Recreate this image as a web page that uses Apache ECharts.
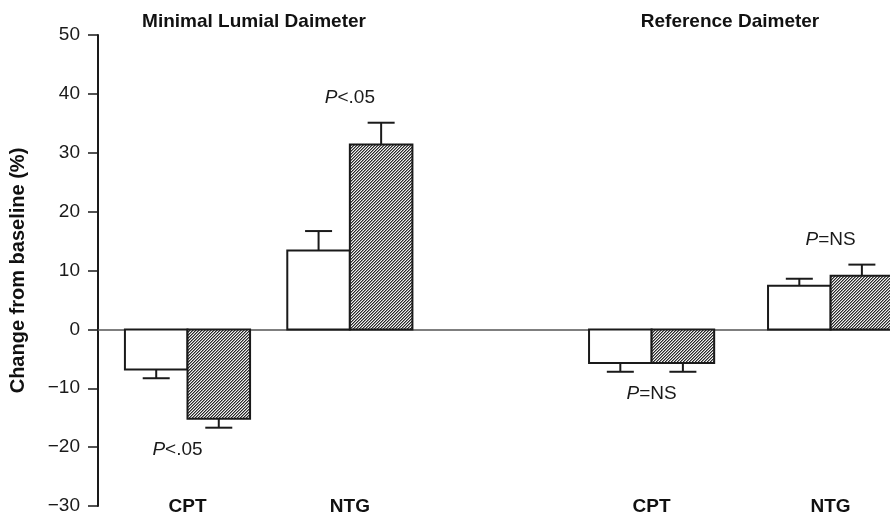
<!DOCTYPE html>
<html><head><meta charset="utf-8">
<script src="https://cdn.jsdelivr.net/npm/echarts@6/dist/echarts.min.js"></script>
<style>html,body{margin:0;padding:0;background:#fff}#c{width:890px;height:522px}</style>
</head><body><div id="c"></div>
<script>
// ---- data ----
const categories = ['CPT', 'NTG', 'CPT', 'NTG'];
const groupX = [11.3, 31.8, 69.9, 92.5];          // category positions on the x scale
const whiteVals = [-6.8, 13.4, -5.7, 7.4];
const hatchVals = [-15.2, 31.4, -5.7, 9.1];
const whiteErr = [1.5, 3.3, 1.5, 1.2];
const hatchErr = [1.5, 3.7, 1.5, 1.9];
const pLabels = ['<.05', '<.05', '=NS', '=NS'];
const panelTitles = ['Minimal Lumial Daimeter', 'Reference Daimeter'];
const yTicks = [-30, -20, -10, 0, 10, 20, 30, 40, 50];

// ---- hatch pattern ----
const pc = document.createElement('canvas');
pc.width = 3; pc.height = 3;
const g = pc.getContext('2d');
const shades = ['#2a2a2a', '#8a8a8a', '#f2f2f2'];
for (let x = 0; x < 3; x++) for (let y = 0; y < 3; y++) {
  g.fillStyle = shades[(x + y) % 3];
  g.fillRect(x, y, 1, 1);
}
const hatch = { image: pc, repeat: 'repeat' };

const barW = 7.9;
const dataRows = categories.map((c, i) => [groupX[i], whiteVals[i], hatchVals[i], whiteErr[i], hatchErr[i]]);
const FONT = '"Liberation Sans", Arial, Helvetica, sans-serif';

const chart = echarts.init(document.getElementById('c'), null, { renderer: 'canvas' });
chart.setOption({
  animation: false,
  backgroundColor: '#fff',
  grid: { left: 98, right: 0, top: 35, bottom: 16, containLabel: false },
  xAxis: {
    type: 'value', min: 0, max: 100,
    axisLine: { show: true, onZero: true, lineStyle: { color: '#555', width: 1.5 } },
    axisTick: { show: false }, axisLabel: { show: false }, splitLine: { show: false }
  },
  yAxis: {
    type: 'value', min: yTicks[0], max: yTicks[yTicks.length - 1], interval: 10,
    name: 'Change from baseline (%)', nameLocation: 'middle', nameGap: 70, nameRotate: 90,
    nameTextStyle: { fontFamily: FONT, fontWeight: 'bold', fontSize: 20, color: '#111' },
    axisLine: { show: true, lineStyle: { color: '#1a1a1a', width: 2 } },
    axisTick: { show: true, inside: false, length: 10, lineStyle: { color: '#1a1a1a', width: 1.5 } },
    axisLabel: { fontFamily: FONT, fontSize: 19, color: '#1a1a1a', margin: 18,
      formatter: v => (v < 0 ? '\u2212' + Math.abs(v) : String(v)) },
    splitLine: { show: false }
  },
  graphic: [
    { type: 'text', x: 254, y: 22, style: { text: panelTitles[0], align: 'center', verticalAlign: 'middle',
      font: 'bold 19px ' + FONT, fill: '#111' } },
    { type: 'text', x: 730, y: 22, style: { text: panelTitles[1], align: 'center', verticalAlign: 'middle',
      font: 'bold 19px ' + FONT, fill: '#111' } }
  ],
  series: [{
    type: 'custom',
    clip: false,
    data: dataRows,
    renderItem: function (params, api) {
      const i = params.dataIndex;
      const x = api.value(0);
      const wv = api.value(1), hv = api.value(2), we = api.value(3), he = api.value(4);
      const w = api.size([barW, 0])[0];
      const p0 = api.coord([x, 0]);
      const cx = p0[0], y0 = p0[1];
      const yw = api.coord([x, wv])[1];
      const yh = api.coord([x, hv])[1];
      const ywe = api.coord([x, wv + Math.sign(wv) * we])[1];
      const yhe = api.coord([x, hv + Math.sign(hv) * he])[1];
      const yBottom = api.coord([x, yTicks[0]])[1];
      const capW = 27;
      const stroke = '#1a1a1a';
      const kids = [];
      kids.push({ type: 'rect', shape: { x: cx - w, y: Math.min(y0, yw), width: w, height: Math.abs(yw - y0) },
        style: { fill: '#fff', stroke: stroke, lineWidth: 2 } });
      kids.push({ type: 'rect', shape: { x: cx, y: Math.min(y0, yh), width: w, height: Math.abs(yh - y0) },
        style: { fill: hatch, stroke: stroke, lineWidth: 2 } });
      const errs = [[cx - w / 2, yw, ywe], [cx + w / 2, yh, yhe]];
      errs.forEach(e => {
        kids.push({ type: 'line', shape: { x1: e[0], y1: e[1], x2: e[0], y2: e[2] }, style: { stroke: stroke, lineWidth: 2 } });
        kids.push({ type: 'line', shape: { x1: e[0] - capW / 2, y1: e[2], x2: e[0] + capW / 2, y2: e[2] }, style: { stroke: stroke, lineWidth: 2 } });
      });
      // category label
      kids.push({ type: 'text', x: cx, y: yBottom + 1, style: { text: categories[i], align: 'center', verticalAlign: 'middle',
        font: 'bold 19px ' + FONT, fill: '#111' } });
      // p annotation
      const neg = wv < 0;
      const far = neg ? Math.max(ywe, yhe) : Math.min(ywe, yhe);
      const ty = neg ? far + 22 : far - 25;
      const tx = (i === 0) ? cx - 10 : cx;
      kids.push({ type: 'text', x: tx, y: ty, style: {
        text: '{i|P}{n|' + pLabels[i] + '}', align: 'center', verticalAlign: 'middle',
        rich: { i: { fontFamily: FONT, fontStyle: 'italic', fontSize: 19, fill: '#1a1a1a', color: '#1a1a1a' },
                n: { fontFamily: FONT, fontSize: 19, fill: '#1a1a1a', color: '#1a1a1a' } } } });
      return { type: 'group', children: kids };
    }
  }]
});
</script>
</body></html>
